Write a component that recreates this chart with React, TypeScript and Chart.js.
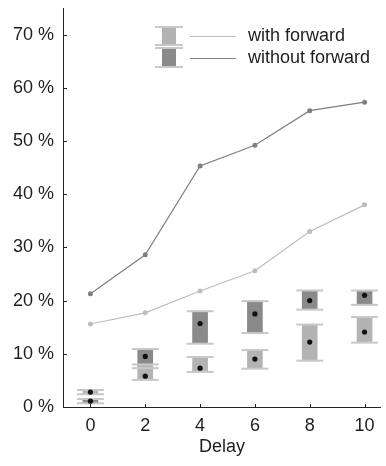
import React, { useEffect, useRef } from "react";
import { Chart, registerables } from "chart.js";

Chart.register(...registerables);

const delays = [0, 2, 4, 6, 8, 10];
const withForwardLine = [15.6, 17.7, 21.8, 25.6, 33.0, 38.0];
const withoutForwardLine = [21.3, 28.6, 45.3, 49.2, 55.7, 57.3];

const withMean = [2.8, 5.8, 7.3, 9.0, 12.2, 14.1];
const withLow = [2.4, 5.1, 6.6, 7.2, 8.7, 12.1];
const withHigh = [3.2, 8.0, 9.4, 10.7, 15.5, 16.9];

const withoutMean = [1.1, 9.5, 15.7, 17.5, 20.0, 21.0];
const withoutLow = [0.7, 7.3, 11.9, 13.9, 18.3, 19.2];
const withoutHigh = [1.5, 10.9, 18.0, 19.9, 21.9, 21.9];

const yTicks = [0, 10, 20, 30, 40, 50, 60, 70];
const legendLabels = ["with forward", "without forward"];

const LIGHT_LINE = "#bdbdbd";
const DARK_LINE = "#7f7f7f";
const LIGHT_BOX = "#b3b3b3";
const DARK_BOX = "#8a8a8a";
const CAP = "#c8c8c8";
const TEXT = "#1e1e1e";
const FONT = "'Liberation Sans', Arial, sans-serif";
const FS = 18;

const capsPlugin = {
  id: "caps",
  afterDatasetsDraw(chart: any) {
    const ctx = chart.ctx;
    const xs = chart.scales.x;
    const ys = chart.scales.y;
    const drawCaps = (lows: number[], highs: number[]) => {
      delays.forEach((d, i) => {
        const cx = xs.getPixelForValue(d);
        [lows[i], highs[i]].forEach((v) => {
          const py = ys.getPixelForValue(v);
          ctx.save();
          ctx.strokeStyle = CAP;
          ctx.lineWidth = 2;
          ctx.beginPath();
          ctx.moveTo(cx - 13.5, py);
          ctx.lineTo(cx + 13.5, py);
          ctx.stroke();
          ctx.restore();
        });
      });
    };
    drawCaps(withLow, withHigh);
    drawCaps(withoutLow, withoutHigh);
    const drawDots = (means: number[]) => {
      delays.forEach((d, i) => {
        ctx.save();
        ctx.fillStyle = "#111";
        ctx.beginPath();
        ctx.arc(xs.getPixelForValue(d), ys.getPixelForValue(means[i]), 2.6, 0, Math.PI * 2);
        ctx.fill();
        ctx.restore();
      });
    };
    drawDots(withMean);
    drawDots(withoutMean);
  },
};

const axisPlugin = {
  id: "axisTicks",
  afterDraw(chart: any) {
    const ctx = chart.ctx;
    const { left, right, top, bottom } = chart.chartArea;
    const xs = chart.scales.x;
    const ys = chart.scales.y;
    ctx.save();
    ctx.strokeStyle = "#222";
    ctx.lineWidth = 1;
    ctx.beginPath();
    ctx.moveTo(left + 0.5, top);
    ctx.lineTo(left + 0.5, bottom + 0.5);
    ctx.lineTo(right, bottom + 0.5);
    ctx.stroke();
    yTicks.forEach((v) => {
      const py = Math.round(ys.getPixelForValue(v)) + 0.5;
      ctx.beginPath();
      ctx.moveTo(left, py);
      ctx.lineTo(left + 4, py);
      ctx.stroke();
    });
    delays.forEach((d) => {
      const px = Math.round(xs.getPixelForValue(d)) + 0.5;
      ctx.beginPath();
      ctx.moveTo(px, bottom);
      ctx.lineTo(px, bottom - 3);
      ctx.stroke();
    });
    ctx.restore();

    const items = [
      { label: legendLabels[0], box: LIGHT_BOX, line: LIGHT_LINE, y0: 27, y1: 45, ty: 36 },
      { label: legendLabels[1], box: DARK_BOX, line: DARK_LINE, y0: 48, y1: 67, ty: 58 },
    ];
    items.forEach((it) => {
      ctx.save();
      ctx.fillStyle = it.box;
      ctx.fillRect(162, it.y0, 14, it.y1 - it.y0);
      ctx.strokeStyle = CAP;
      ctx.lineWidth = 2;
      [it.y0, it.y1].forEach((yy) => {
        ctx.beginPath();
        ctx.moveTo(155, yy);
        ctx.lineTo(183, yy);
        ctx.stroke();
      });
      ctx.strokeStyle = it.line;
      ctx.lineWidth = 1.2;
      ctx.beginPath();
      ctx.moveTo(190, it.ty + 0.5);
      ctx.lineTo(236, it.ty + 0.5);
      ctx.stroke();
      ctx.fillStyle = TEXT;
      ctx.font = `${FS}px ${FONT}`;
      ctx.textBaseline = "middle";
      ctx.textAlign = "left";
      ctx.fillText(it.label, 248, it.ty);
      ctx.restore();
    });
  },
};

export default function App() {
  const ref = useRef<HTMLCanvasElement>(null);
  useEffect(() => {
    if (!ref.current) return;
    const chart = new Chart(ref.current, {
      type: "line",
      data: {
        datasets: [
          {
            type: "line",
            label: "with forward",
            data: delays.map((d, i) => ({ x: d, y: withForwardLine[i] })),
            borderColor: LIGHT_LINE,
            backgroundColor: LIGHT_LINE,
            borderWidth: 1.2,
            pointRadius: 2.5,
            pointBorderWidth: 0,
            order: 1,
          },
          {
            type: "line",
            label: "without forward",
            data: delays.map((d, i) => ({ x: d, y: withoutForwardLine[i] })),
            borderColor: DARK_LINE,
            backgroundColor: DARK_LINE,
            borderWidth: 1.2,
            pointRadius: 2.5,
            pointBorderWidth: 0,
            order: 1,
          },
          {
            type: "bar",
            label: "with box",
            data: delays.map((d, i) => ({ x: d, y: [withLow[i], withHigh[i]] })) as any,
            backgroundColor: LIGHT_BOX,
            barThickness: 15,
            grouped: false,
            order: 2,
          } as any,
          {
            type: "bar",
            label: "without box",
            data: delays.map((d, i) => ({ x: d, y: [withoutLow[i], withoutHigh[i]] })) as any,
            backgroundColor: DARK_BOX,
            barThickness: 15,
            grouped: false,
            order: 2,
          } as any,
        ],
      },
      options: {
        animation: false,
        responsive: false,
        maintainAspectRatio: false,
        layout: { padding: { top: 8, right: 5, left: 0, bottom: 0 } },
        plugins: { legend: { display: false }, tooltip: { enabled: false } },
        scales: {
          x: {
            type: "linear",
            min: -1,
            max: 10.6,
            offset: false,
            grid: { display: false },
            border: { display: false },
            afterFit: (s: any) => {
              s.height = 59;
              s.paddingLeft = 0;
              s.paddingRight = 0;
            },
            afterBuildTicks: (s: any) => {
              s.ticks = delays.map((v) => ({ value: v }));
            },
            ticks: {
              color: TEXT,
              font: { family: FONT, size: FS },
              padding: 0,
              maxRotation: 0,
              callback: (v: any) => String(v),
            },
            title: {
              display: true,
              text: "Delay",
              color: TEXT,
              font: { family: FONT, size: FS },
              padding: { top: 0, bottom: 8 },
            },
          },
          y: {
            type: "linear",
            min: 0,
            max: 75,
            grid: { display: false },
            border: { display: false },
            afterFit: (s: any) => {
              s.width = 63;
              s.paddingTop = 0;
              s.paddingBottom = 0;
            },
            afterBuildTicks: (s: any) => {
              s.ticks = yTicks.map((v) => ({ value: v }));
            },
            ticks: {
              color: TEXT,
              font: { family: FONT, size: FS },
              padding: 1,
              callback: (v: any) => `${v} %`,
            },
          },
        },
      },
      plugins: [capsPlugin, axisPlugin],
    });
    return () => chart.destroy();
  }, []);
  return (
    <div style={{ position: "fixed", left: 0, top: 0, width: 386, height: 466, background: "#fff" }}>
      <canvas ref={ref} width={386} height={466} style={{ width: 386, height: 466 }} />
    </div>
  );
}
